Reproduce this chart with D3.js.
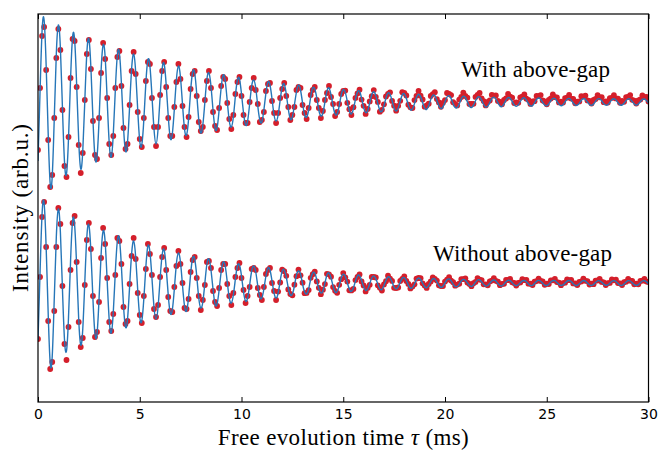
<!DOCTYPE html>
<html>
<head>
<meta charset="utf-8">
<script src="https://cdn.jsdelivr.net/npm/d3@7"></script>
<style>
  body { margin: 0; background: #fff; }
  svg { display: block; }
</style>
</head>
<body>
<div id="chart"></div>
<script>
// Ramsey-type fringes, two traces stacked with an offset (arb. units)
const width = 663;
const height = 450;

const sampleStepMs = 0.1;            // spacing of the measured points
const xTicks = [0, 5, 10, 15, 20, 25, 30];
const traceLabels = ["With above-gap", "Without above-gap"];
const traceOffsets = [181, 0];

// upper trace: measured points and fit
const withGapData = [
  -48, 14, 66, 75, 32, -38, -85, -73, -16, 44, 73, 52, -8, -64, -75, -35, 24, 63, 61, 15,
  -43, -71, -51, 2, 48, 62, 33, -19, -53, -57, -16, 29, 59, 43, 4, -42, -53, -34, 14, 45,
  51, 16, -26, -47, -42, -3, 31, 50, 28, -10, -37, -45, -16, 21, 40, 38, 4, -25, -44,
  -25, 7, 31, 40, 15, -16, -34, -34, -5, 20, 38, 23, -4, -25, -35, -15, 13, 28, 31, 6,
  -20, -29, -25, 2, 21, 31, 14, -10, -24, -28, -6, 16, 25, 23, -1, -17, -27, -13, 8, 20,
  25, 6, -13, -21, -21, 0, 14, 24, 12, -2, -20, -18, -10, 11, 18, 19, 1, -11, -21,
  -11, 4, 13, 19, 6, -5, -18, -13, -5, 12, 15, 14, -3, -11, -17, -6, 7, 12, 15, 2,
  -6, -16, -9, 2, 9, 16, 5, -2, -14, -10, -2, 8,
  11.1, 11.4, -0.8, -7.2, -13.0, -5.2, 4.1, 8.6, 12.3, 2.4, -3.8, -11.9, -7.0, 0.6, 5.8, 11.9, 5.0, 0.1, -9.7, -7.8,
  -2.3, 5.5, 8.1, 9.7, 1.1, -3.7, -8.7, -3.8, 1.2, 9.8, 9.1, 6.5, -2.7, -5.3, -6.0, 1.9, 6.2, 11.1, 6.3, 2.5,
  -4.7, -3.5, -1.7, 6.0, 7.9, 9.8, 2.9, -0.4, -4.8, -0.8, 1.9,
  9.0, 8.0, 6.9, -0.2, -1.8, -3.4, 2.4, 5.0, 9.4, 6.1, 4.3, -2.0, -1.9, -1.8, 5.1, 7.1, 9.0, 3.7, 0.9, -3.4,
  0.0, 1.5, 7.2, 6.4, 6.5, 1.1, 0.1, -2.3, 2.0, 3.6, 8.1, 5.3, 4.3, -1.1, -0.4, -0.8, 4.6, 5.3, 7.5, 3.3,
  2.2, -1.9, 0.6, 0.8, 6.0, 5.9, 6.9, 1.5, 0.5, -2.3, 2.0, 3.5, 7.5, 4.8, 4.6, -0.4, 0.4, -0.6, 3.9, 4.3,
  7.2, 3.4, 3.2, -1.3, 0.3, 0.6, 5.8, 5.4, 6.4, 1.6, 1.2, -1.6, 2.1, 3.0, 6.9, 4.7, 4.8, -0.2, 0.6, -0.6,
  3.8, 4.1, 6.9, 3.6, 3.3, -0.8, 1.0, 0.2, 4.9, 5.0, 6.9, 2.2, 1.4, -1.6, 1.7, 2.5, 6.7, 4.8, 5.0, 0.4
];
const withGapFit = [
  -59, 10, 71, 82, 37, -31, -82, -74, -16, 48, 77, 54, -5, -59, -72, -36, 23, 65, 62, 17,
  -38, -67, -49, 1, 49, 63, 34, -17, -55, -55, -18, 31, 57, 45, 2, -41, -55, -32, 12, 47,
  49, 18, -24, -49, -40, -5, 33, 48, 30, -8, -39, -43, -18, 19, 42, 36, 6, -27, -42,
  -27, 5, 33, 38, 17, -14, -36, -32, -7, 22, 36, 25, -2, -27, -33, -17, 11, 30, 29, 8,
  -18, -31, -23, 0, 23, 29, 16, -8, -26, -26, -8, 14, 27, 21, 1, -19, -25, -15, 6, 22,
  23, 8, -11, -23, -19, -2, 16, 22, 14, -4, -18, -20, -8, 9, 20, 17, 3, -13, -19,
  -13, 2, 15, 18, 8, -7, -17, -15, -3, 10, 17, 12, -1, -13, -15, -8, 5, 14, 13, 4,
  -8, -14, -11, 0, 11, 14, 7, -4, -12, -12, -4, 7,
  12.3, 9.6, 0.5, -8.8, -11.9, -6.9, 2.6, 10.1, 10.6, 3.9, -5.2, -10.6, -8.7, -1.0, 7.2, 10.3, 6.4, -1.7, -8.5, -9.3,
  -3.9, 4.1, 9.0, 7.8, 1.3, -5.9, -9.0,
  -5.9, 1.0, 7.1, 8.2, 3.8, -3.1, -7.7, -7.0, -1.6, 4.8, 7.8, 5.4, -0.5, -6.0, -7.3, -3.6, 2.4, 6.6, 6.3, 1.7,
  -3.8, -6.7, -4.9, 0.1, 5.0, 6.3, 3.4, -1.7, -5.6, -5.6, -1.8, 3.1, 5.8, 4.5, 0.2, -4.1, -5.6, -3.2, 1.2, 4.8,
  5.0, 1.9, -2.5, -5.0, -4.1, -0.5, 3.4, 4.9, 3.0, -0.8, -4.1, -4.5, -1.9, 2.0, 4.4, 3.8, 0.7, -2.9, -4.4,
  -2.9, 0.5, 3.6, 4.1, 1.9, -1.6, -3.9, -3.6, -0.8, 2.5, 4.0, 2.8, -0.3, -3.1, -3.8, -1.9, 1.3, 3.5, 3.4, 0.9,
  -2.1, -3.7, -2.7, 0.1, 2.7, 3.6, 1.9, -1.0, -3.2, -3.2, -1.1, 1.8, 3.4, 2.6, 0.1, -2.5, -3.4, -2.0, 0.8, 3.0,
  3.1, 1.2, -1.6, -3.2, -2.7, -0.3, 2.3, 3.2, 2.0, -0.6, -2.8, -3.0, -1.3, 1.4, 3.1, 2.7, 0.5, -2.0, -3.2, -2.1,
  0.4, 2.6, 3.0, 1.4, -1.2
];

// lower trace: measured points and fit
const withoutGapData = [
  -56, 6, 66, 81, 36, -38, -86, -79, -28, 36, 75, 59, -3, -61, -77, -44, 13, 60, 67, 21,
  -39, -64, -55, -2, 43, 60, 34, -13, -54, -49, -19, 25, 55, 39, 5, -39, -48, -31, 8, 45,
  42, 19, -24, -41, -38, -1, 27, 45, 24, -10, -32, -40, -13, 14, 39, 29, 8, -26, -34,
  -22, 6, 26, 35, 13, -14, -28, -29, -4, 17, 32, 19, 0, -25, -26, -16, 11, 23, 26, 5,
  -13, -27, -17, -2, 21, 22, 15, -8, -19, -23, -5, 13, 19, 19, -1, -13, -22, -10, 6, 15,
  20, 5, -7, -20, -13, -4, 14, 15, 13, -5, -12, -17, -4, 9, 13, 15, 0, -8, -17,
  -8.6, 0.5, 13.3, 11.8, 7.2, -6.4, -11.0, -12.3, -1.7, 6.8, 13.4, 7.7, 0.3, -10.2, -9.9, -7.1, 5.2, 8.8, 11.3, 1.6,
  -4.8, -11.2, -6.7, -1.1, 9.2, 8.7, 6.3, -4.1, -7.8, -9.8, -1.8, 3.8,
  9.9, 5.7, 1.4, -7.3, -7.4, -5.9, 2.9, 6.0, 8.5, 1.6, -2.5, -8.4, -4.9, -1.8, 6.1, 6.0, 5.5, -2.3, -4.7, -7.5,
  -1.5, 1.8, 7.3, 4.3, 2.1, -4.8, -5.0, -4.5, 2.0, 4.2, 6.7, 2.0, -0.9, -5.4, -3.4, -1.3, 4.4, 5.0, 4.8, -0.3,
  -2.6, -4.9, -1.0, 1.6, 5.5, 4.0, 2.4, -2.3, -3.0, -3.0, 1.4,
  3.4, 5.8, 2.4, 0.8, -2.7, -1.6, -0.7, 3.9, 3.8, 4.7, 0.4, -0.9, -3.2, -0.2, 1.1, 4.9, 3.4, 2.9, -1.3, -1.3,
  -2.3, 1.5, 2.4, 4.9, 2.2, 1.3, -2.2, -0.9, -0.8, 3.0, 3.0, 4.1, 0.7, 0.0, -2.5, 0.1, 0.6, 3.9, 2.8, 3.0,
  -0.7, -0.7, -2.0, 1.3, 1.9, 4.4, 2.1, 1.6, -1.8, -0.7, -1.0, 2.7, 2.7, 4.1, 0.9, 0.4, -2.2, -0.1, 0.3, 3.7,
  2.8, 3.2, -0.4, -0.5, -2.0, 1.0, 1.6, 4.3, 2.2, 1.9, -1.5, -0.7, -1.2, 2.4, 2.5, 4.0, 1.1, 0.7, -2.0, -0.1,
  0.1, 3.5, 2.7, 3.3, -0.1, -0.3, -2.0, 0.8, 1.3, 4.1, 2.3, 2.1, -1.3, -0.6, -1.3, 2.1, 2.3, 4.1, 1.4, 0.9
];
const withoutGapFit = [
  -57, 10, 69, 80, 36, -30, -80, -73, -15, 46, 74, 51, -5, -56, -68, -34, 22, 62, 58, 16,
  -36, -62, -46, 1, 46, 58, 31, -16, -51, -51, -16, 28, 52, 41, 2, -37, -50, -29, 11, 42,
  44, 16, -22, -44, -36, -4, 29, 42, 26, -7, -34, -38, -16, 16, 37, 31, 5, -24, -36,
  -24, 4, 28, 33, 15, -12, -30, -27, -6, 19, 30, 21, -2, -23, -28, -14, 9, 25, 24, 7,
  -15, -25, -19, 0, 19, 24, 13, -6, -21, -21, -7, 11, 21, 17, 1, -15, -20, -12, 4, 17,
  18, 7, -9, -18, -15, -2, 12, 17, 11, -3, -14, -15, -6, 7, 15, 13, 2, -10, -15,
  -10, 2, 12, 13, 6, -5, -12, -11, -3, 8, 12, 9, -1, -9, -11, -6, 4, 10, 10, 3,
  -6, -10, -8, 0, 8, 10, 5, -3, -9, -8.5, -3, 5,
  8.8, 6.8, 0.3, -6.2, -8.4, -4.8, 1.8, 7.1, 7.4, 2.7, -3.6, -7.3, -6.0, -0.7, 5.0, 7.1, 4.4, -1.2, -5.8, -6.4,
  -2.6, 2.7, 6.1, 5.2, 0.9, -4.0, -6.0,
  -3.9, 0.7, 4.7, 5.4, 2.5, -2.1, -5.1, -4.6, -1.0, 3.1, 5.0, 3.5, -0.3, -3.8, -4.7, -2.3, 1.5, 4.2, 4.0, 1.1,
  -2.5, -4.3, -3.2, 0.1, 3.2, 4.1, 2.2, -1.1, -3.5, -3.5, -1.1, 2.0, 3.6, 2.8, 0.1, -2.6, -3.5, -2.0, 0.8, 3.0,
  3.1, 1.1, -1.5, -3.1, -2.5, -0.3, 2.1, 3.0, 1.9, -0.5, -2.5, -2.8, -1.1, 1.2, 2.7, 2.3, 0.4, -1.8, -2.7,
  -1.7, 0.3, 2.1, 2.5, 1.2, -1.0, -2.5, -2.3, -0.5, 1.6, 2.6, 1.8, -0.2, -2.1, -2.5, -1.3, 0.9, 2.4, 2.3, 0.6,
  -1.4, -2.5, -1.9, 0.0, 1.9, 2.5, 1.4, -0.7, -2.3, -2.3, -0.8, 1.3, 2.5, 1.9, 0.1, -1.8, -2.5, -1.5, 0.6, 2.2,
  2.2, 0.8, -1.1, -2.3, -1.9, -0.2, 1.7, 2.4, 1.5, -0.4, -2.1, -2.3, -1.0, 1.0, 2.3, 2.0, 0.3, -1.6, -2.4, -1.6,
  0.3, 2.0, 2.3, 1.1, -0.9
];

const dataColor = "#d41f2b";
const fitColor = "#2676b8";
const serif = "'Liberation Serif', 'Times New Roman', serif";

const margin = {top: 14, right: 14.5, bottom: 48, left: 38};
const plotW = width - margin.left - margin.right;
const plotH = height - margin.top - margin.bottom;

const xScale = d3.scaleLinear().domain([0, 30]).range([0, plotW]);
const yScale = d3.scaleLinear().domain([-119, 269]).range([plotH, 0]);

const svg = d3.select("#chart")
  .append("svg")
  .attr("width", width)
  .attr("height", height);

const g = svg.append("g")
  .attr("transform", `translate(${margin.left}, ${margin.top})`);

g.append("clipPath")
  .attr("id", "plot-clip")
  .append("rect")
  .attr("width", plotW)
  .attr("height", plotH);

const plot = g.append("g").attr("clip-path", "url(#plot-clip)");

const traces = [
  {data: withGapData, fit: withGapFit, offset: traceOffsets[0]},
  {data: withoutGapData, fit: withoutGapFit, offset: traceOffsets[1]}
];

traces.forEach(tr => {
  const line = d3.line()
    .x((d, i) => xScale(i * sampleStepMs))
    .y(d => yScale(d + tr.offset))
    .curve(d3.curveNatural);

  plot.append("g")
    .selectAll("circle")
    .data(tr.data)
    .join("circle")
    .attr("cx", (d, i) => xScale(i * sampleStepMs))
    .attr("cy", d => yScale(d + tr.offset))
    .attr("r", 2.9)
    .attr("fill", dataColor);

  plot.append("path")
    .datum(tr.fit)
    .attr("fill", "none")
    .attr("stroke", fitColor)
    .attr("stroke-width", 1.4)
    .attr("d", line);
});

// axes: ticks pointing inwards on bottom and top, no y ticks
const xAxis = d3.axisBottom(xScale)
  .tickValues(xTicks)
  .tickFormat(d3.format("d"))
  .tickSizeInner(-5)
  .tickSizeOuter(0)
  .tickPadding(7);

const xAxisG = g.append("g")
  .attr("transform", `translate(0, ${plotH})`)
  .call(xAxis);
xAxisG.select(".domain").remove();
xAxisG.selectAll("text")
  .attr("font-family", "'DejaVu Sans', sans-serif")
  .attr("font-size", 14)
  .attr("fill", "#000");
xAxisG.selectAll("line").attr("stroke", "#000");

const topAxisG = g.append("g")
  .call(d3.axisTop(xScale).tickValues(xTicks).tickSizeInner(-5).tickSizeOuter(0).tickFormat(""));
topAxisG.select(".domain").remove();
topAxisG.selectAll("line").attr("stroke", "#000");

g.append("rect")
  .attr("width", plotW)
  .attr("height", plotH)
  .attr("fill", "none")
  .attr("stroke", "#000")
  .attr("stroke-width", 1.2);

// labels
const xLabel = svg.append("text")
  .attr("x", margin.left + plotW / 2)
  .attr("y", 445)
  .attr("text-anchor", "middle")
  .attr("font-family", serif)
  .attr("font-size", 23)
  .attr("textLength", 251);
xLabel.append("tspan").text("Free evolution time ");
xLabel.append("tspan").attr("font-style", "italic").text("τ");
xLabel.append("tspan").text(" (ms)");

svg.append("text")
  .attr("transform", `translate(28, ${margin.top + plotH / 2}) rotate(-90)`)
  .attr("text-anchor", "middle")
  .attr("font-family", serif)
  .attr("font-size", 23)
  .attr("textLength", 168)
  .text("Intensity (arb.u.)");

svg.append("text")
  .attr("x", 461)
  .attr("y", 77)
  .attr("font-family", serif)
  .attr("font-size", 23)
  .attr("textLength", 149)
  .text(traceLabels[0]);

svg.append("text")
  .attr("x", 433)
  .attr("y", 261)
  .attr("font-family", serif)
  .attr("font-size", 23)
  .attr("textLength", 179)
  .text(traceLabels[1]);
</script>
</body>
</html>
